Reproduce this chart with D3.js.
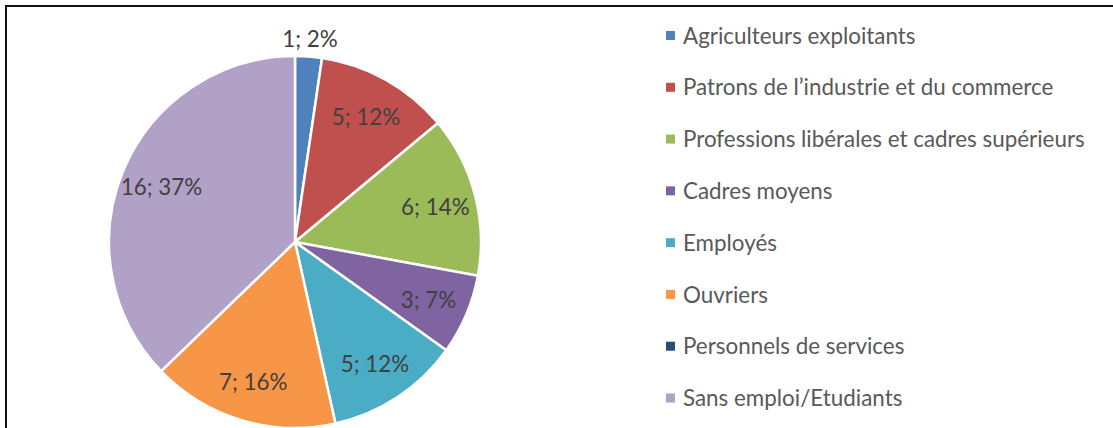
<!DOCTYPE html>
<html><head><meta charset="utf-8">
<script src="https://cdn.jsdelivr.net/npm/d3@7"></script>
<style>html,body{margin:0;padding:0;background:#fff;overflow:hidden}</style>
</head><body>
<svg id="c" width="1113" height="428"></svg>
<script>
const categories = ["Agriculteurs exploitants","Patrons de l\u2019industrie et du commerce","Professions lib\u00e9rales et cadres sup\u00e9rieurs","Cadres moyens","Employ\u00e9s","Ouvriers","Personnels de services","Sans emploi/Etudiants"];
const values = [1,5,6,3,5,7,0,16];
const colors = ["#4F81BD","#C0504D","#9BBB59","#8064A2","#4BACC6","#F79646","#2C4D75","#B2A1C7"];
const outsideLabel = [true,false,false,false,false,false,false,false];

const svg = d3.select("#c");
const FONT = "Lato, 'Open Sans', sans-serif";

// frame
svg.append("rect").attr("x",6).attr("y",6).attr("width",1120).attr("height",440)
  .attr("fill","none").attr("stroke","#111").attr("stroke-width",2);

// fit font size so longest legend text ~402px
const probe = svg.append("text").attr("font-family",FONT).attr("font-size",24).text(categories[2]);
const w24 = probe.node().getComputedTextLength();
probe.remove();
const fs = Math.min(24, 24*402/w24);

const cx = 295, cy = 242, r = 186;
const total = d3.sum(values);
const pie = d3.pie().sort(null).value(d=>d).startAngle(0).endAngle(2*Math.PI);
const arcs = pie(values);
const arc = d3.arc().innerRadius(0).outerRadius(r);
const labelArc = d3.arc().innerRadius(r*0.78).outerRadius(r*0.78);
const outArc = d3.arc().innerRadius(r+19).outerRadius(r+19);

const g = svg.append("g").attr("transform",`translate(${cx},${cy})`);
g.selectAll("path").data(arcs.filter(a=>a.data>0)).join("path")
  .attr("d",arc).attr("fill",(d)=>colors[d.index]).attr("stroke","#fff").attr("stroke-width",2.5).attr("stroke-linejoin","round");

g.selectAll("text.lbl").data(arcs.filter(a=>a.data>0)).join("text")
  .attr("class","lbl")
  .attr("transform",d=>`translate(${(outsideLabel[d.index]?outArc:labelArc).centroid(d)})`)
  .attr("text-anchor","middle").attr("dy", fs*0.42)
  .attr("font-family",FONT).attr("font-size",fs).attr("fill","#404040")
  .text(d=>`${d.data}; ${Math.round(d.data/total*100)}%`);

// legend
const ly = d3.scalePoint().domain(categories).range([35.5,398]);
const lg = svg.append("g");
const items = lg.selectAll("g").data(categories).join("g")
  .attr("transform",d=>`translate(666,${ly(d)})`);
items.append("rect").attr("x",0).attr("y",-4.5).attr("width",9).attr("height",9)
  .attr("fill",(d,i)=>colors[i]);
items.append("text").attr("x",17).attr("dy",fs*0.36)
  .attr("font-family",FONT).attr("font-size",fs).attr("fill","#595959").text(d=>d);
</script>
</body></html>
